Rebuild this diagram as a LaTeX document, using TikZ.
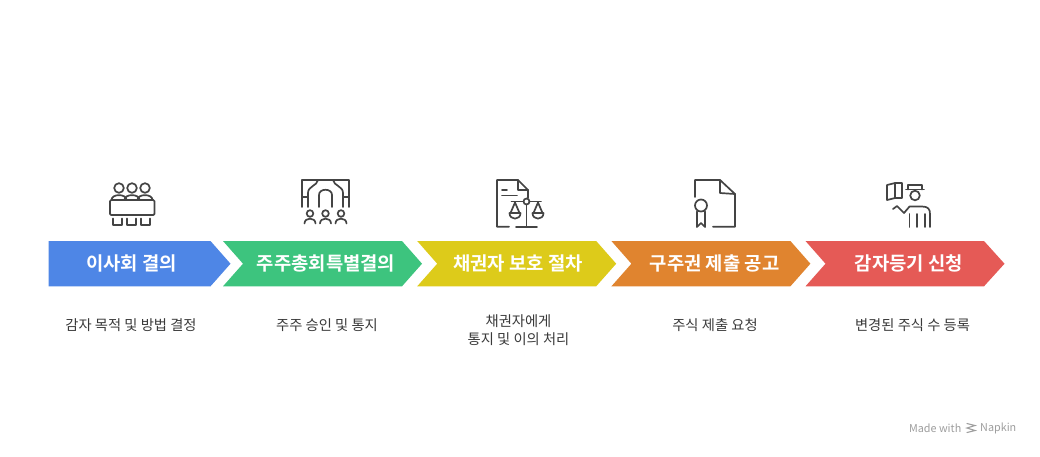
\documentclass[tikz,border=0pt]{standalone}
\usepackage{fontspec}
\setmainfont{Noto Sans CJK KR}[BoldFont={Noto Sans CJK KR Bold}]
\definecolor{cblue}{HTML}{4E86E6}
\definecolor{cgreen}{HTML}{3DC47E}
\definecolor{cyellow}{HTML}{DDCB1A}
\definecolor{corange}{HTML}{E0842F}
\definecolor{cred}{HTML}{E55A56}
\definecolor{icongray}{HTML}{444444}
\definecolor{subgray}{HTML}{3A3A3A}
\definecolor{wmgray}{HTML}{9E9E9E}
\tikzset{
  ic/.style={draw=icongray, line width=1.7pt, line cap=round, line join=round},
  lab/.style={text=white, font=\fontsize{18.8}{22}\selectfont\bfseries, inner sep=0pt},
  sub/.style={text=subgray, font=\fontsize{14.3}{18}\selectfont, inner sep=0pt, align=center},
  wm/.style={text=wmgray, font=\fontsize{10.8}{12}\selectfont, inner sep=0pt}
}
\begin{document}
\begin{tikzpicture}[x=1pt,y=-1pt]
\useasboundingbox (0,0) rectangle (1040,456);
\fill[white] (0,0) rectangle (1040,456);
% arrows
\fill[cblue] (48.5,241) -- (210.5,241) -- (230.5,263.7) -- (210.5,286.3) -- (48.5,286.3) -- cycle;
\fill[cgreen] (223,241) -- (402,241) -- (422,263.7) -- (402,286.3) -- (223,286.3) -- (243,263.7) -- cycle;
\fill[cyellow] (417.2,241) -- (596.2,241) -- (616.2,263.7) -- (596.2,286.3) -- (417.2,286.3) -- (437.2,263.7) -- cycle;
\fill[corange] (611.4,241) -- (790.4,241) -- (810.4,263.7) -- (790.4,286.3) -- (611.4,286.3) -- (631.4,263.7) -- cycle;
\fill[cred] (805.5,241) -- (984,241) -- (1004.5,263.7) -- (984,286.3) -- (805.5,286.3) -- (825.5,263.7) -- cycle;
% labels
\node[lab] (l1) at (131.5,263.7) {이사회 결의};
\node[lab] (l2) at (326,263.7) {주주총회특별결의};
\node[lab] (l3) at (518,263.7) {채권자 보호 절차};
\node[lab] (l4) at (714.5,263.7) {구주권 제출 공고};
\node[lab] (l5) at (909,263.7) {감자등기 신청};
% sub texts
\node[sub] (s1) at (131,325) {감자 목적 및 방법 결정};
\node[sub] (s2) at (327,325) {주주 승인 및 통지};
\node[sub] (s3) at (518.5,330) {채권자에게\\통지 및 이의 처리};
\node[sub] (s4) at (715,325) {주식 제출 요청};
\node[sub] (s5) at (912.5,325) {변경된 주식 수 등록};
% icon 1: board meeting
\foreach \hx in {119,132,145}{
  \draw[ic] (\hx,188) circle (4.8);
  \draw[ic] (\hx-7.5,200) .. controls (\hx-7.5,193.5) and (\hx+7.5,193.5) .. (\hx+7.5,200);
}
\draw[ic, rounded corners=1.2pt] (110,200) rectangle (154.5,215);
\foreach \cx in {113,127,141}{
  \draw[ic] (\cx,218.5) -- (\cx,225) -- (\cx+9,225) -- (\cx+9,218.5);
}
% icon 2: general meeting hall
\draw[ic] (302,207) -- (302,180) -- (349,180) -- (349,207);
\draw[ic] (308,207) -- (308,193) .. controls (308,186) and (317,186) .. (318,180);
\draw[ic] (343,207) -- (343,193) .. controls (343,186) and (334,186) .. (333,180);
\draw[ic] (302,197) -- (308,197);
\draw[ic] (343,197) -- (349,197);
\draw[ic] (319,207) -- (319,195) .. controls (319,188) and (332,188) .. (332,195) -- (332,207);
\foreach \px in {310,325.5,341}{
  \draw[ic] (\px,213.5) circle (3.3);
  \draw[ic] (\px-5.5,223.5) .. controls (\px-5.5,217) and (\px+5.5,217) .. (\px+5.5,223.5);
}
% icon 3: document with scales
\draw[ic] (509,226.7) -- (497,226.7) -- (497,180) -- (518,180) -- (528,190) -- (528,198);
\draw[ic] (518,180) -- (518,190) -- (528,190);
\draw[ic] (502,190) -- (507,190);
\draw[ic] (502,195.5) -- (517,195.5);
\draw[ic] (511.5,201.5) -- (523.5,201.5);
\draw[ic] (529.5,201.5) -- (541,201.5);
\draw[ic] (526.5,201.5) circle (3);
\draw[ic] (526.5,204.5) -- (526.5,226.7);
\draw[ic] (516,226.7) -- (537,226.7);
\foreach \bx in {515,538}{
  \draw[ic] (\bx-4.5,213) -- (\bx,202.5) -- (\bx+4.5,213);
  \draw[ic] (\bx-5.5,213) .. controls (\bx-5.5,220.5) and (\bx+5.5,220.5) .. (\bx+5.5,213) -- cycle;
}
% icon 4: certificate
\draw[ic] (695,197) -- (695,180) -- (720,180) -- (735,194) -- (735,226.7) -- (713,226.7);
\draw[ic] (720,180) -- (720,193) -- (735,194);
\draw[ic] (701,205.5) circle (6);
\draw[ic] (697,211.5) -- (697,227) -- (701,223) -- (705,227) -- (705,211.5);
% icon 5: presenter with board
\draw[ic] (887,185) -- (895,183) -- (902,183) -- (902,198) -- (895,198) -- (887,200) -- cycle;
\draw[ic] (895,183) -- (895,198);
\draw[ic] (908,189.5) -- (908,185) -- (922,185) -- (922,189.5);
\draw[ic] (906,189.5) -- (924,189.5);
\draw[ic] (915,195.5) circle (4.8);
\draw[ic] (893,209) -- (897,206) -- (904,213) -- (909.5,206.5) -- (922,206.5) .. controls (928,206.5) and (930,209) .. (930,214) -- (930,227);
\draw[ic] (925,214) -- (925,227);
\draw[ic] (909.5,214) -- (909.5,227);
\draw[ic] (917,214) -- (917,227);
% watermark
\node[wm, anchor=east] (wm1) at (961.5,428) {Made with};
\draw[wmgray, line width=1.1pt, line cap=round] (967,423.5) -- (975,425.5) -- (967,428) -- (975,430.5) -- (967,432.5);
\node[wm, anchor=west] (wm2) at (980,428) {Napkin};
\end{tikzpicture}
\end{document}
